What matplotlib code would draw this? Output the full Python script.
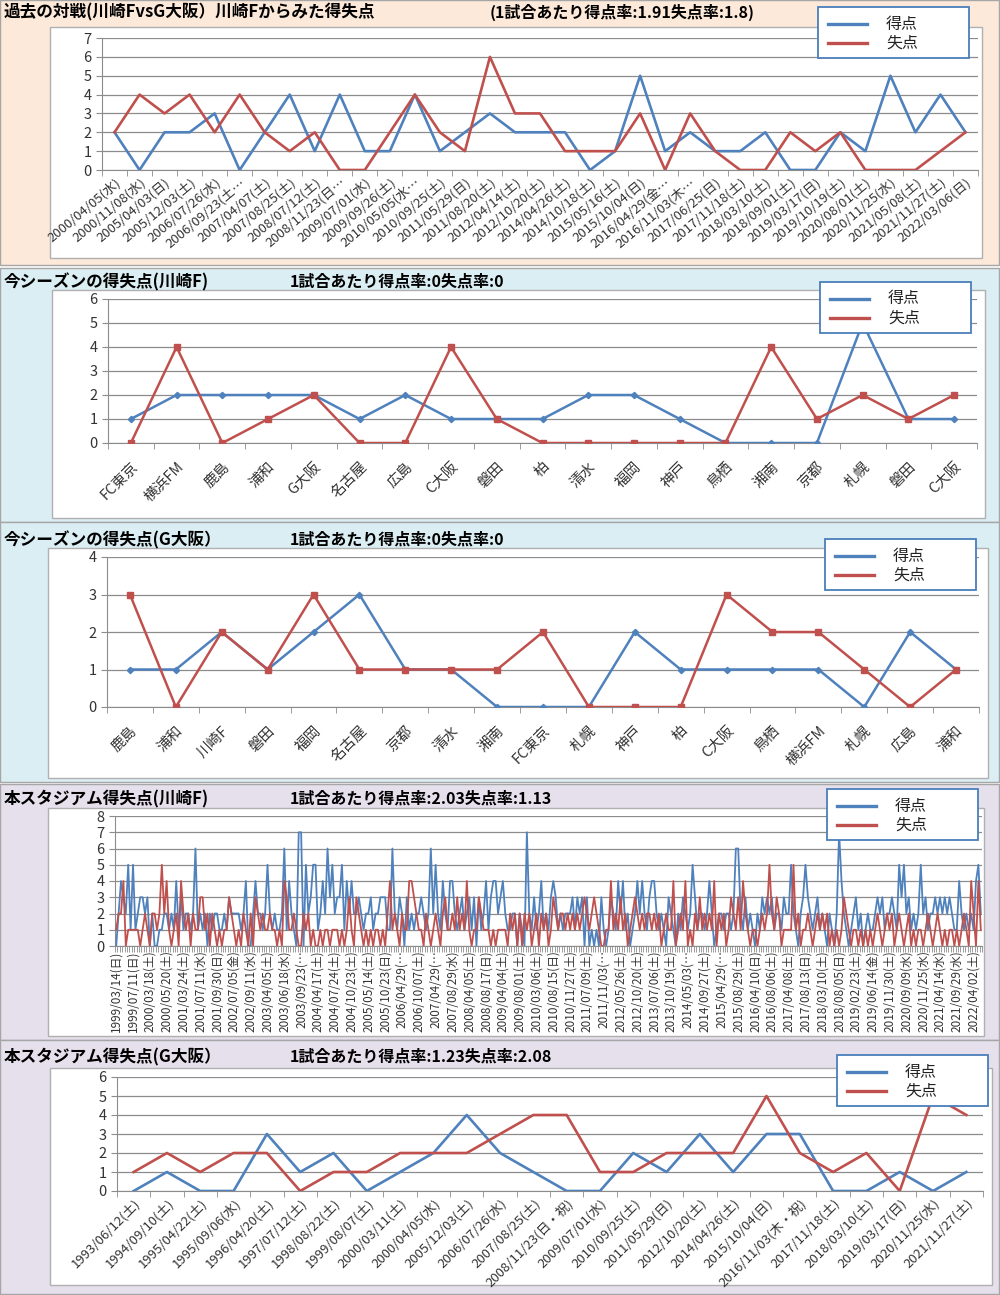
import matplotlib
matplotlib.use('Agg')
import matplotlib.pyplot as plt
from matplotlib.patches import Rectangle
from matplotlib.lines import Line2D

plt.rcParams['font.family'] = ['Noto Sans CJK JP', 'DejaVu Sans']

W, H = 1000, 1295
BLUE = '#4F81BD'
RED = '#C0504D'
GRID = '#8C8C8C'

# ---- panel 1: past matches (Kawasaki F view)
p1_dates = ['2000/04/05(水)', '2000/11/08(水)', '2005/04/03(日)', '2005/12/03(土)',
            '2006/07/26(水)', '2006/09/23(土…', '2007/04/07(土)', '2007/08/25(土)',
            '2008/07/12(土)', '2008/11/23(日…', '2009/07/01(水)', '2009/09/26(土)',
            '2010/05/05(水…', '2010/09/25(土)', '2011/05/29(日)', '2011/08/20(土)',
            '2012/04/14(土)', '2012/10/20(土)', '2014/04/26(土)', '2014/10/18(土)',
            '2015/05/16(土)', '2015/10/04(日)', '2016/04/29(金…', '2016/11/03(木…',
            '2017/06/25(日)', '2017/11/18(土)', '2018/03/10(土)', '2018/09/01(土)',
            '2019/03/17(日)', '2019/10/19(土)', '2020/08/01(土)', '2020/11/25(水)',
            '2021/05/08(土)', '2021/11/27(土)', '2022/03/06(日)']
p1_for = [2, 0, 2, 2, 3, 0, 2, 4, 1, 4, 1, 1, 4, 1, 2, 3, 2, 2, 2, 0,
          1, 5, 1, 2, 1, 1, 2, 0, 0, 2, 1, 5, 2, 4, 2]
p1_against = [2, 4, 3, 4, 2, 4, 2, 1, 2, 0, 0, 2, 4, 2, 1, 6, 3, 3, 1, 1,
              1, 3, 0, 3, 1, 0, 0, 2, 1, 2, 0, 0, 0, 1, 2]

# ---- panel 2: this season (Kawasaki F)
p2_teams = ['FC東京', '横浜FM', '鹿島', '浦和', 'G大阪', '名古屋', '広島', 'C大阪', '磐田',
            '柏', '清水', '福岡', '神戸', '鳥栖', '湘南', '京都', '札幌', '磐田', 'C大阪']
p2_for = [1, 2, 2, 2, 2, 1, 2, 1, 1, 1, 2, 2, 1, 0, 0, 0, 5, 1, 1]
p2_against = [0, 4, 0, 1, 2, 0, 0, 4, 1, 0, 0, 0, 0, 0, 4, 1, 2, 1, 2]

# ---- panel 3: this season (G Osaka)
p3_teams = ['鹿島', '浦和', '川崎F', '磐田', '福岡', '名古屋', '京都', '清水', '湘南',
            'FC東京', '札幌', '神戸', '柏', 'C大阪', '鳥栖', '横浜FM', '札幌', '広島', '浦和']
p3_for = [1, 1, 2, 1, 2, 3, 1, 1, 0, 0, 0, 2, 1, 1, 1, 1, 0, 2, 1]
p3_against = [3, 0, 2, 1, 3, 1, 1, 1, 1, 2, 0, 0, 0, 3, 2, 2, 1, 0, 1]

# ---- panel 4: this stadium (Kawasaki F), tick labels every 7 games
p4_labels = ['1999/03/14(日)', '1999/07/11(日)', '2000/03/18(土)', '2000/05/20(土)',
             '2001/03/24(土)', '2001/07/11(水)', '2001/09/30(日)', '2002/07/05(金)',
             '2002/09/11(水)', '2003/04/05(土)', '2003/06/18(水)', '2003/09/23(…',
             '2004/04/17(土)', '2004/07/24(土)', '2004/10/23(土)', '2005/05/14(土)',
             '2005/10/23(日)', '2006/04/29(…', '2006/10/07(土)', '2007/04/29(…',
             '2007/08/29(水)', '2008/04/05(土)', '2008/08/17(日)', '2009/04/04(土)',
             '2009/08/01(土)', '2010/03/06(土)', '2010/08/15(日)', '2010/11/27(土)',
             '2011/07/09(土)', '2011/11/03(…', '2012/05/26(土)', '2012/10/20(土)',
             '2013/07/06(土)', '2013/10/19(土)', '2014/05/03(…', '2014/09/27(土)',
             '2015/04/29(…', '2015/08/29(土)', '2016/04/10(日)', '2016/08/06(土)',
             '2017/04/08(土)', '2017/08/13(日)', '2018/03/10(土)', '2018/08/05(日)',
             '2019/02/23(土)', '2019/06/14(金)', '2019/11/30(土)', '2020/09/09(水)',
             '2020/11/25(水)', '2021/04/14(水)', '2021/09/29(水)', '2022/04/02(土)']
p4_step = 7
p4_for = [0, 2, 4, 3, 2, 5, 1, 5, 1, 2, 3, 3, 2, 3, 0, 2, 0, 0, 1, 1, 2,
          2, 1, 2, 1, 4, 1, 3, 1, 2, 2, 1, 2, 6, 1, 2, 1, 2, 0, 2, 1, 2,
          2, 1, 1, 2, 1, 3, 2, 2, 2, 2, 1, 2, 4, 0, 0, 2, 4, 2, 2, 1, 2,
          5, 2, 1, 2, 1, 1, 2, 6, 1, 4, 2, 1, 0, 7, 7, 0, 5, 2, 3, 5, 5,
          1, 2, 4, 2, 6, 3, 5, 2, 3, 3, 5, 1, 4, 2, 4, 2, 2, 3, 2, 1, 2,
          2, 3, 1, 2, 2, 3, 3, 3, 1, 1, 6, 2, 1, 3, 2, 0, 3, 1, 2, 1, 2,
          2, 3, 2, 1, 2, 6, 2, 5, 2, 1, 4, 2, 1, 4, 4, 2, 1, 2, 3, 1, 2,
          3, 1, 3, 0, 3, 1, 2, 4, 1, 3, 4, 4, 2, 3, 4, 2, 1, 1, 2, 2, 0,
          2, 1, 0, 7, 2, 1, 3, 1, 2, 4, 1, 2, 1, 3, 4, 3, 1, 2, 1, 2, 2,
          2, 3, 1, 3, 2, 3, 0, 3, 0, 1, 0, 1, 0, 3, 1, 0, 1, 3, 2, 1, 4,
          2, 4, 1, 2, 0, 1, 2, 4, 2, 4, 2, 1, 3, 4, 4, 2, 1, 2, 1, 0, 3,
          2, 1, 0, 2, 1, 3, 2, 1, 2, 5, 3, 1, 2, 2, 1, 2, 4, 2, 0, 1, 2,
          2, 1, 2, 2, 1, 2, 6, 6, 2, 1, 3, 1, 2, 1, 0, 2, 1, 3, 2, 3, 2,
          3, 1, 2, 2, 1, 3, 2, 2, 5, 2, 1, 0, 2, 3, 5, 3, 2, 1, 2, 3, 1,
          2, 1, 0, 2, 1, 0, 2, 7, 4, 2, 1, 0, 1, 2, 3, 1, 2, 0, 1, 2, 1,
          1, 2, 3, 2, 3, 1, 2, 2, 3, 2, 1, 5, 3, 5, 2, 3, 1, 2, 1, 2, 5,
          2, 3, 1, 2, 2, 3, 2, 3, 2, 3, 2, 3, 2, 1, 1, 4, 2, 1, 2, 1, 2,
          1, 4, 5, 2]
p4_against = [1, 2, 2, 4, 0, 1, 1, 1, 1, 1, 0, 1, 2, 1, 0, 2, 2, 1, 2, 5, 2,
              4, 1, 0, 1, 2, 0, 4, 2, 1, 2, 0, 2, 1, 1, 3, 3, 1, 2, 0, 2, 1,
              0, 1, 0, 1, 1, 3, 2, 1, 0, 1, 0, 2, 1, 0, 2, 0, 3, 2, 1, 2, 1,
              1, 2, 1, 1, 0, 1, 0, 4, 3, 1, 1, 2, 1, 0, 0, 2, 1, 2, 0, 1, 0,
              0, 1, 0, 1, 1, 0, 1, 1, 1, 0, 1, 0, 1, 3, 1, 0, 3, 2, 1, 0, 1,
              0, 1, 0, 1, 1, 0, 1, 0, 2, 4, 1, 2, 1, 0, 2, 1, 1, 4, 4, 3, 2,
              1, 1, 0, 2, 1, 0, 1, 2, 1, 0, 2, 3, 1, 1, 2, 1, 3, 1, 2, 1, 4,
              1, 0, 1, 1, 3, 2, 1, 1, 1, 0, 1, 0, 1, 1, 1, 1, 0, 2, 1, 2, 0,
              2, 0, 2, 1, 2, 0, 1, 2, 0, 2, 1, 2, 0, 1, 3, 2, 1, 2, 2, 1, 2,
              1, 2, 1, 2, 1, 2, 3, 2, 1, 2, 3, 2, 1, 0, 0, 1, 1, 4, 1, 2, 1,
              3, 1, 2, 0, 1, 2, 3, 2, 1, 2, 1, 2, 2, 1, 2, 1, 2, 0, 1, 2, 1,
              1, 4, 0, 1, 2, 1, 4, 0, 1, 0, 2, 1, 3, 1, 2, 1, 2, 1, 4, 0, 2,
              1, 2, 0, 1, 3, 2, 1, 3, 1, 4, 2, 1, 0, 1, 1, 0, 1, 2, 1, 2, 5,
              2, 1, 3, 2, 0, 1, 1, 1, 1, 5, 1, 2, 0, 1, 1, 2, 1, 0, 1, 2, 1,
              2, 1, 2, 0, 1, 0, 1, 0, 1, 3, 2, 1, 0, 1, 1, 0, 1, 0, 1, 0, 1,
              0, 1, 2, 1, 0, 1, 2, 1, 2, 0, 1, 2, 1, 0, 1, 2, 0, 1, 0, 1, 1,
              0, 1, 2, 1, 0, 1, 2, 1, 0, 1, 0, 1, 1, 0, 1, 0, 1, 2, 1, 0, 4,
              2, 0, 4, 1]

# ---- panel 5: this stadium (G Osaka)
p5_dates = ['1993/06/12(土)', '1994/09/10(土)', '1995/04/22(土)', '1995/09/06(水)',
            '1996/04/20(土)', '1997/07/12(土)', '1998/08/22(土)', '1999/08/07(土)',
            '2000/03/11(土)', '2000/04/05(水)', '2005/12/03(土)', '2006/07/26(水)',
            '2007/08/25(土)', '2008/11/23(日・祝)', '2009/07/01(水)', '2010/09/25(土)',
            '2011/05/29(日)', '2012/10/20(土)', '2014/04/26(土)', '2015/10/04(日)',
            '2016/11/03(木・祝)', '2017/11/18(土)', '2018/03/10(土)', '2019/03/17(日)',
            '2020/11/25(水)', '2021/11/27(土)']
p5_for = [0, 1, 0, 0, 3, 1, 2, 0, 1, 2, 4, 2, 1, 0, 0, 2, 1, 3, 1, 3, 3, 0, 0, 1, 0, 1]
p5_against = [1, 2, 1, 2, 2, 0, 1, 1, 2, 2, 2, 3, 4, 4, 1, 1, 2, 2, 2, 5, 2, 1, 2, 0, 5, 4]


fig = plt.figure(figsize=(10, 12.95), dpi=100)


def frac(x0, y0, x1, y1):
    return [x0 / W, 1 - y1 / H, (x1 - x0) / W, (y1 - y0) / H]


def rect(x0, y0, x1, y1, fc, ec, lw=1.0, z=0):
    l, b, w, h = frac(x0, y0, x1, y1)
    fig.patches.append(Rectangle((l, b), w, h, transform=fig.transFigure,
                                 fc=fc, ec=ec, lw=lw, zorder=z))


def legend_box(x0, y0):
    rect(x0, y0, x0 + 151, y0 + 51, 'white', '#4A7EBB', lw=1.3, z=5)
    for dy, col, lab in [(17, BLUE, '得点'), (36, RED, '失点')]:
        y = 1 - (y0 + dy) / H
        fig.lines.append(Line2D([(x0 + 10) / W, (x0 + 49) / W], [y, y],
                                transform=fig.transFigure, color=col, lw=2.4, zorder=6))
        fig.text((x0 + 84) / W, y, lab, ha='center', va='center', fontsize=11.5,
                 color='#222222', zorder=7)


def panel(ax_px, cats, vfor, vagainst, ymax, markers=False, rot=40, lsize=7.5,
          pad=3, lw=1.9, tick_idx=None, tick_labels=None):
    ax = fig.add_axes(frac(*ax_px))
    ax.set_zorder(3)
    ax.patch.set_alpha(0)
    x = list(range(len(vfor)))
    if markers:
        ax.plot(x, vfor, color=BLUE, lw=lw, marker='D', ms=3.2, zorder=3)
        ax.plot(x, vagainst, color=RED, lw=lw, marker='s', ms=5, zorder=3)
    else:
        ax.plot(x, vfor, color=BLUE, lw=lw, zorder=3)
        ax.plot(x, vagainst, color=RED, lw=lw, zorder=3)
    ax.set_xlim(-0.5, len(vfor) - 0.5)
    ax.set_ylim(0, ymax)
    ax.set_yticks(range(ymax + 1))
    ax.grid(axis='y', color=GRID, lw=0.9)
    ax.set_axisbelow(True)
    for s in ['top', 'right']:
        ax.spines[s].set_visible(False)
    for s in ['left', 'bottom']:
        ax.spines[s].set_color(GRID)
    if tick_idx is None:
        tick_idx = x
        tick_labels = cats
    ax.set_xticks(tick_idx)
    ax.set_xticks([i - 0.5 for i in range(len(vfor) + 1)], minor=True)
    ax.tick_params(axis='x', which='major', length=0, pad=pad)
    ax.tick_params(axis='x', which='minor', length=4, color=GRID)
    ax.tick_params(axis='y', length=4, color=GRID, labelsize=10.5, labelcolor='#333333')
    if rot == 90:
        ax.set_xticklabels(tick_labels, rotation=90, fontsize=lsize, color='#333333',
                           ha='center', va='top')
    else:
        ax.set_xticklabels(tick_labels, rotation=rot, fontsize=lsize, color='#333333',
                           ha='right', rotation_mode='anchor')
    return ax


def titles(y, left, right, rx):
    fig.text(4 / W, 1 - y / H, left, fontsize=12, fontweight='bold', va='center')
    fig.text(rx / W, 1 - y / H, right, fontsize=11.5, fontweight='bold', va='center')


# backgrounds
rect(0, 0, 999, 265, '#FDE9D9', '#A6A6A6', z=0)
rect(0, 268, 999, 522, '#DBEEF4', '#A6A6A6', z=0)
rect(0, 522, 999, 782, '#DBEEF4', '#A6A6A6', z=0)
rect(0, 784, 999, 1040, '#E5E0EC', '#A6A6A6', z=0)
rect(0, 1040, 999, 1294, '#E5E0EC', '#A6A6A6', z=0)

# white chart boxes
rect(50, 27, 982, 258, 'white', '#B0B0B0', z=1)
rect(52, 290, 985, 518, 'white', '#B0B0B0', z=1)
rect(48, 548, 988, 778, 'white', '#B0B0B0', z=1)
rect(48, 808, 984, 1036, 'white', '#B0B0B0', z=1)
rect(50, 1068, 992, 1285, 'white', '#B0B0B0', z=1)

titles(12, '過去の対戦(川崎FvsG大阪）川崎Fからみた得失点', '(1試合あたり得点率:1.91失点率:1.8)', 490)
titles(282, '今シーズンの得失点(川崎F)', '1試合あたり得点率:0失点率:0', 290)
titles(540, '今シーズンの得失点(G大阪）', '1試合あたり得点率:0失点率:0', 290)
titles(799, '本スタジアム得失点(川崎F)', '1試合あたり得点率:2.03失点率:1.13', 290)
titles(1057, '本スタジアム得失点(G大阪）', '1試合あたり得点率:1.23失点率:2.08', 290)

panel((102, 38, 978, 170), p1_dates, p1_for, p1_against, 7, rot=40, lsize=9.5, pad=4)
panel((108, 299, 977, 443), p2_teams, p2_for, p2_against, 6, markers=True, rot=45,
      lsize=10.5, pad=12, lw=1.8)
panel((107, 557, 979, 707), p3_teams, p3_for, p3_against, 4, markers=True, rot=45,
      lsize=10.5, pad=12, lw=1.8)
p4_idx = [i * p4_step for i in range(len(p4_labels))]
panel((115, 816, 982, 946), None, p4_for, p4_against, 8, rot=90, lsize=8.5, pad=3,
      lw=1.3, tick_idx=p4_idx, tick_labels=p4_labels)
panel((117, 1077, 983, 1191), p5_dates, p5_for, p5_against, 6, rot=45, lsize=9.5, pad=4)

legend_box(818, 7)
legend_box(820, 282)
legend_box(825, 539)
legend_box(827, 789)
legend_box(837, 1055)

fig.savefig('out.png', dpi=100)
